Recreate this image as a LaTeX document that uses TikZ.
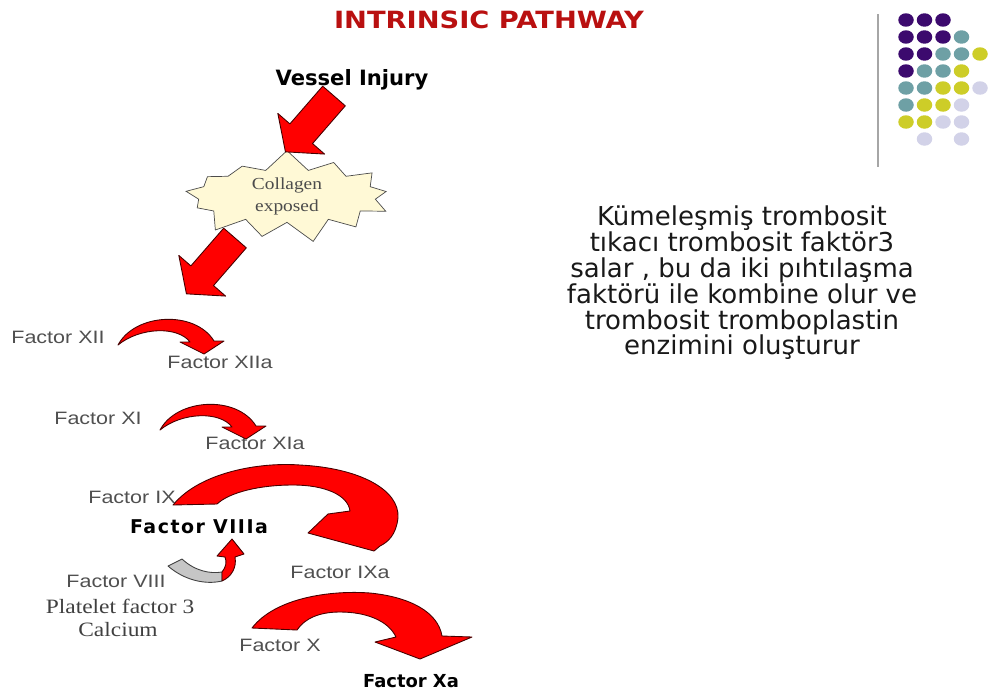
\documentclass[tikz,border=0pt]{standalone}
\usepackage{fontspec}
\setmainfont{Liberation Serif}
\newfontfamily\factorfont[FakeStretch=1.2]{Liberation Sans}
\newfontfamily\oldserif[FakeStretch=1.15]{Liberation Serif}
\newfontfamily\headfont{DejaVu Sans}
\newfontfamily\titlefont[FakeStretch=1.15]{DejaVu Sans}
\usepackage{tikz}
\usetikzlibrary{shapes.symbols}
\definecolor{titlered}{RGB}{185,16,16}
\definecolor{arrowred}{RGB}{255,0,0}
\definecolor{arrowedge}{RGB}{70,0,0}
\definecolor{burstfill}{RGB}{255,249,214}
\definecolor{labelgray}{RGB}{80,80,80}
\definecolor{dotP}{RGB}{60,10,110}
\definecolor{dotT}{RGB}{110,160,165}
\definecolor{dotY}{RGB}{205,205,40}
\definecolor{dotL}{RGB}{210,210,232}
\tikzset{
  titletext/.style={font=\titlefont\bfseries\fontsize{13.5}{16}\selectfont, text=titlered, inner sep=0pt},
  boldtext/.style={font=\headfont\bfseries\fontsize{10.2}{12}\selectfont, inner sep=0pt},
  factortext/.style={font=\factorfont\fontsize{10.2}{12}\selectfont, text=labelgray, inner sep=0pt},
  seriftext/.style={font=\oldserif\fontsize{11.6}{14}\selectfont, text=black!75, inner sep=0pt},
  notetext/.style={font=\headfont\fontsize{14.8}{14.7}\selectfont, text=black!90, align=center, inner sep=0pt},
  burst/.style={starburst, starburst points=13, starburst point height=0.42cm, random starburst=7, draw=black!70, fill=burstfill, minimum width=4.4cm, minimum height=0.8cm, align=center, font=\oldserif\fontsize{9.6}{12.5}\selectfont, text=black!70, inner sep=0pt},
  redshape/.style={fill=arrowred, draw=arrowedge, line width=0.5pt, line join=round},
  grayshape/.style={fill=gray!45, draw=black!75, line width=0.5pt, line join=round},
  blockarr/.pic={
    \path[redshape] (0,-15) -- (50,-15) -- (50,-31) -- (74,0) -- (50,31) -- (50,15) -- (0,15) -- cycle;
  },
  smallcurl/.pic={
    \path[redshape] (0,0) .. controls (17,-32) and (77,-35) .. (96,-4) -- (106,-4) -- (86,9)
      -- (62,-3) -- (72,-3) .. controls (60,-19) and (22,-18) .. (0,0) -- cycle;
  }
}
\begin{document}
\begin{tikzpicture}[x=0.02cm, y=-0.02cm]
\useasboundingbox (0,0) rectangle (989,693);
% title and template corner
\node[titletext] (title) at (489,20) {INTRINSIC PATHWAY};
\draw[gray!70, line width=1.5pt] (878,14) -- (878,167);
\foreach \cl/\pts in {dotP/{1/1,2/1,3/1,1/2,2/2,3/2,1/3,2/3,1/4},
    dotT/{4/2,3/3,4/3,2/4,3/4,1/5,2/5,1/6},
    dotY/{5/3,4/4,3/5,4/5,2/6,3/6,1/7,2/7},
    dotL/{5/5,4/6,3/7,4/7,2/8,4/8}}
  \foreach \c/\r in \pts
    \fill[\cl] ({906+18.5*(\c-1)},{20+17*(\r-1)}) ellipse [x radius=0.155cm, y radius=0.135cm];
% injury and collagen
\node[boldtext, font=\headfont\bfseries\fontsize{12}{14}\selectfont, anchor=base] (injury) at (352,85) {Vessel Injury};
\node[burst] (collagen) at (287,196) {Collagen\\exposed};
\pic[rotate=229] at (334,96) {blockarr};
\pic[rotate=229] at (235,238) {blockarr};
% cascade
\node[factortext] (f12) at (58,337) {Factor XII};
\node[factortext] (f12a) at (220,362) {Factor XIIa};
\pic at (118,345) {smallcurl};
\node[factortext] (f11) at (98,418) {Factor XI};
\node[factortext] (f11a) at (255,443) {Factor XIa};
\pic at (160,430) {smallcurl};
\node[factortext] (f9) at (132,497) {Factor IX};
\node[boldtext, font=\headfont\bfseries\fontsize{10.8}{12}\selectfont\addfontfeature{LetterSpace=8}] (f8a) at (199,527) {Factor VIIIa};
\path[redshape] (173,505) .. controls (200,472) and (260,462) .. (300,465)
  .. controls (360,468) and (400,490) .. (398,518) .. controls (396,535) and (388,542) .. (380,546)
  -- (374,551) -- (308,533) -- (328,514) -- (350,511)
  .. controls (348,495) and (325,485) .. (293,485) .. controls (260,485) and (230,492) .. (217,504) -- cycle;
\node[factortext] (f8) at (116,581) {Factor VIII};
\node[seriftext] (pf3) at (120,606) {Platelet factor 3};
\node[seriftext] (calc) at (118,630) {Calcium};
\path[grayshape] (168,566) -- (182,559) .. controls (195,571) and (210,574) .. (222,572)
  -- (222,581) .. controls (205,585) and (184,580) .. (168,566) -- cycle;
\path[redshape] (222,572) .. controls (226,567) and (227,562) .. (225,557) -- (217,556) -- (232,539)
  -- (244,554) -- (235,557) .. controls (237,568) and (231,577) .. (222,581) -- cycle;
\node[factortext] (f9a) at (340,572) {Factor IXa};
\node[factortext] (f10) at (280,645) {Factor X};
\path[redshape] (252,628) .. controls (275,598) and (330,590) .. (370,593)
  .. controls (410,597) and (438,612) .. (442,636) -- (472,637) -- (420,659) -- (375,642) -- (396,637)
  .. controls (388,620) and (365,612) .. (340,612) .. controls (320,612) and (305,618) .. (297,630) -- cycle;
\node[boldtext] (f10a) at (411,681) {Factor Xa};
% explanation
\node[notetext] (note) at (742,283) {Kümeleşmiş trombosit\\tıkacı trombosit faktör3\\salar , bu da iki pıhtılaşma\\faktörü ile kombine olur ve\\trombosit tromboplastin\\enzimini oluşturur};
\end{tikzpicture}
\end{document}
